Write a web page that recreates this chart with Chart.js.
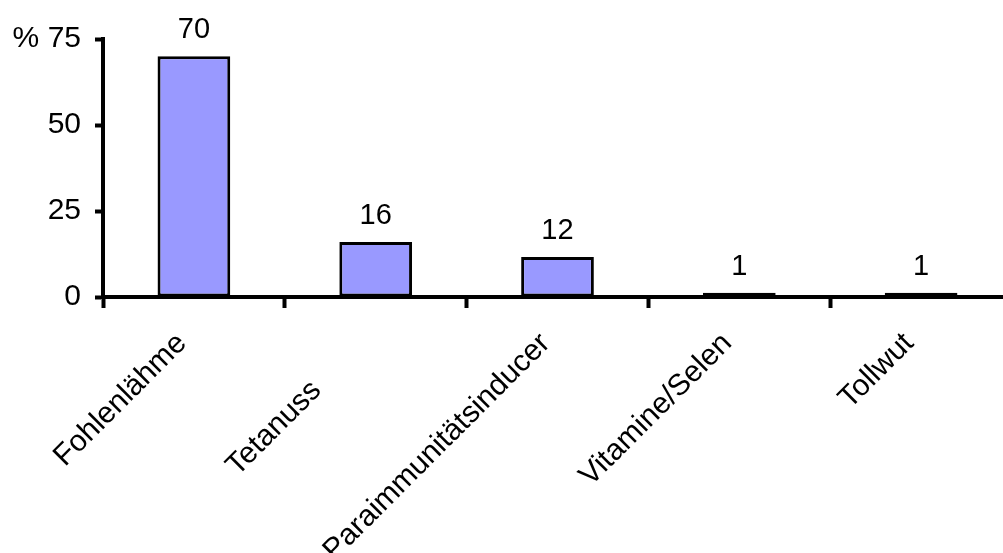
<!DOCTYPE html>
<html>
<head>
<meta charset="utf-8">
<script src="https://cdn.jsdelivr.net/npm/chart.js@4/dist/chart.umd.min.js"></script>
<style>
  html, body { margin: 0; padding: 0; background: #fff; overflow: hidden; }
  #wrap { position: relative; width: 1012px; height: 640px; }
</style>
</head>
<body>
<div id="wrap"><canvas id="chart"></canvas></div>
<script>
// anteil der impfungen/prophylaxen in prozent
const categories = ['Fohlenlähme', 'Tetanuss\u00a0\u00a0\u00a0\u00a0\u00a0\u00a0\u00a0\u00a0', 'Paraimmunitätsinducer', 'Vitamine/Selen', 'Tollwut'];
const values = [70, 16, 11.6, 1.2, 1.2];
const yTicks = [0, 25, 50, 75];

const FONT = "Arial, 'Liberation Sans', Helvetica, sans-serif";
const CANVAS_H = 640;
const PLOT_TOP = 39;
const PLOT_BOTTOM = 297;
const PLOT_LEFT = 103;

// zahlen ueber den balken
const valueLabels = {
  id: 'valueLabels',
  afterDatasetsDraw(chart) {
    const ctx = chart.ctx;
    const meta = chart.getDatasetMeta(0);
    ctx.save();
    ctx.font = `29px ${FONT}`;
    ctx.fillStyle = '#000';
    ctx.textAlign = 'center';
    ctx.textBaseline = 'alphabetic';
    meta.data.forEach((bar, i) => {
      ctx.fillText(String(Math.round(values[i])), bar.x, bar.y - 18);
    });
    ctx.restore();
  },
};

new Chart(document.getElementById('chart'), {
  type: 'bar',
  data: {
    labels: categories,
    datasets: [{
      data: values,
      backgroundColor: '#9999ff',
      borderColor: '#000',
      borderWidth: 3,
      borderSkipped: false,
      barPercentage: 0.4,
      categoryPercentage: 1.0,
    }],
  },
  options: {
    responsive: true,
    maintainAspectRatio: false,
    animation: false,
    layout: { padding: { top: PLOT_TOP, right: 0, left: 0, bottom: 0 } },
    plugins: { legend: { display: false }, tooltip: { enabled: false } },
    scales: {
      x: {
        offset: true,
        grid: {
          offset: true,
          drawOnChartArea: false,
          tickLength: 11,
          tickWidth: 4,
          tickColor: '#000',
        },
        border: { color: '#000', width: 4 },
        ticks: {
          autoSkip: false,
          minRotation: 45,
          maxRotation: 45,
          labelOffset: -12,
          padding: 18,
          color: '#000',
          font: { size: 30, family: FONT },
        },
        afterFit(scale) { scale.height = CANVAS_H - PLOT_BOTTOM; },
      },
      y: {
        min: 0,
        max: 75,
        afterBuildTicks(scale) { scale.ticks = yTicks.map((v) => ({ value: v })); },
        grid: {
          drawOnChartArea: false,
          tickLength: 8,
          tickWidth: 4,
          tickColor: '#000',
        },
        border: { color: '#000', width: 4 },
        ticks: {
          padding: 14,
          color: '#000',
          font: { size: 30, family: FONT },
          callback: (v) => (v === 75 ? '% 75' : String(v)),
        },
        afterFit(scale) { scale.width = PLOT_LEFT; },
      },
    },
  },
  plugins: [valueLabels],
});
</script>
</body>
</html>
